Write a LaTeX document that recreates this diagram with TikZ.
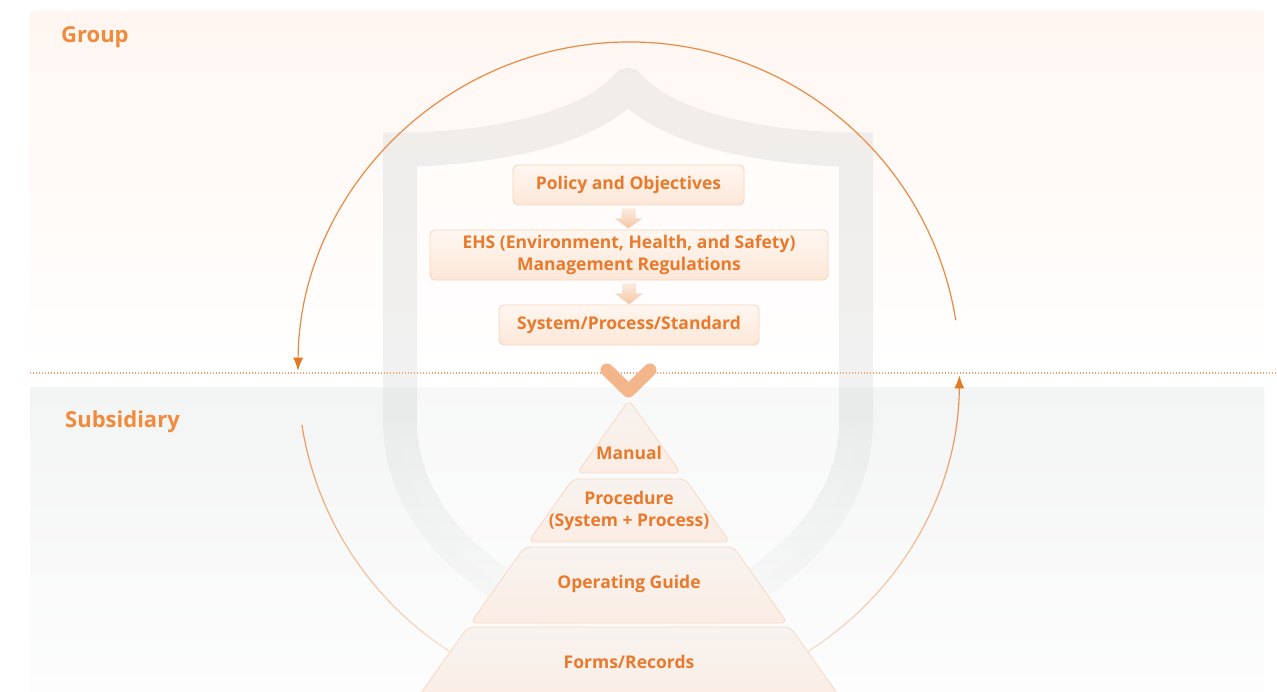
\documentclass[tikz,border=0pt]{standalone}
\usepackage{fontspec}
\setmainfont{Open Sans}
\newcommand\sbf{\bfseries}
\usetikzlibrary{arrows.meta,fadings,calc}
\definecolor{org}{HTML}{E97A2C}
\definecolor{lbl}{HTML}{F28A3B}
\definecolor{arcc}{HTML}{EA8A45}
\definecolor{tipc}{HTML}{E8781F}
\definecolor{boxtop}{HTML}{FFF7F1}
\definecolor{boxbot}{HTML}{FCE7D8}
\definecolor{boxline}{HTML}{F7D4BA}
\definecolor{shieldc}{HTML}{DCDEDD}
\definecolor{chev}{HTML}{F2B68A}
\definecolor{grptop}{HTML}{FFF6F1}
\definecolor{subtop}{HTML}{F3F4F4}
\definecolor{subbot}{HTML}{FDFDFD}
\definecolor{dotc}{HTML}{F2A570}
\definecolor{pyrtop}{HTML}{F8F3F0}
\definecolor{pyrbot}{HTML}{FBEDE4}
\definecolor{pyrline}{HTML}{F8DCC8}
\definecolor{arrtop}{HTML}{FCEBDF}
\definecolor{arrbot}{HTML}{F5C6A2}
\tikzfading[name=fadebottom, top color=transparent!0, bottom color=transparent!92]
\tikzfading[name=shieldfade, top color=transparent!0, bottom color=transparent!95]
\tikzset{
  box/.style={rounded corners=5pt, draw=boxline, line width=0.9pt, top color=boxtop, bottom color=boxbot,
    text=org, font=\sbf\fontsize{17.5}{22}\selectfont, align=center, inner sep=0pt},
  lvltext/.style={text=org, font=\sbf\fontsize{17.5}{22}\selectfont, align=center, inner sep=0pt},
  pyr/.style={rounded corners=6pt, draw=pyrline, line width=0.9pt, top color=pyrtop, bottom color=pyrbot},
  sectlabel/.style={text=lbl, font=\sbf\fontsize{22}{24}\selectfont, anchor=base west, inner sep=0pt},
  loop/.style={draw=arcc, line width=1.2pt, -{Latex[length=13pt,width=10pt,color=tipc]}},
  blockarrow/.style={top color=arrtop, bottom color=arrbot, draw=none},
}
\begin{document}
\begin{tikzpicture}[x=1pt,y=-1pt]
\useasboundingbox (0,0) rectangle (1277,692);
\fill[white] (0,0) rectangle (1277,692);
% panels
\shade[top color=grptop, bottom color=white] (30,12) rectangle (1264,372);
\shade[top color=subtop, bottom color=subbot] (30,388) rectangle (1264,692);
% shield
\begin{scope}[transparency group, opacity=0.42]
  \fill[white] (400,150) .. controls (500,148) and (590,128) .. (628,85)
     .. controls (666,128) and (756,148) .. (856,150) -- (856,420)
     .. controls (856,540) and (736,610) .. (628,640)
     .. controls (520,610) and (400,540) .. (400,420) -- cycle;
  \draw[shieldc, line width=34pt, line join=round]
     (400,150) .. controls (500,148) and (590,128) .. (628,85)
     .. controls (666,128) and (756,148) .. (856,150);
  \draw[shieldc, line width=34pt, line join=miter]
     (400,132.5) -- (400,150) -- (400,421);
  \draw[shieldc, line width=34pt, line join=miter]
     (856,132.5) -- (856,150) -- (856,421);
  \draw[shieldc, line width=34pt, path fading=shieldfade]
     (400,420) .. controls (400,540) and (520,610) .. (628,640)
     .. controls (736,610) and (856,540) .. (856,420);
\end{scope}
% divider
\coordinate (dl) at (30,373);
\coordinate (dr) at (1277,373);
\draw[dotc, line width=1.1pt, dash pattern=on 1.1pt off 1.9pt] (dl) -- (dr);
% labels
\node[sectlabel] (group) at (61,43) {Group};
\node[sectlabel] (subs) at (65,428) {Subsidiary};
% circle loop
\coordinate (cc) at (629,373);
\coordinate (topstart) at ($(cc)+(-9.2:331)$);
\coordinate (botstart) at ($(cc)+(171:331)$);
\draw[loop] (topstart) arc[start angle=-9.2, end angle=-179.6, radius=331];
\draw[loop, path fading=fadebottom] (botstart) arc[start angle=171, end angle=0.4, radius=331];
% boxes
\node[box, minimum width=231pt, minimum height=40pt] (pol) at (628.5,185) {Policy and Objectives};
\node[box, minimum width=398pt, minimum height=50pt] (ehs) at (629,255) {EHS (Environment, Health, and Safety)\\Management Regulations};
\node[box, minimum width=260pt, minimum height=40pt] (sps) at (629,325) {System/Process/Standard};
% block arrows
\path[blockarrow] ($(pol.south)+(-7,3)$) -- ++(14,0) -- ++(0,10) -- ++(7,0) -- ($(pol.south)+(0,23)$) -- ++(-14,-10) -- ++(7,0) -- cycle;
\path[blockarrow] ($(ehs.south)+(-7,3)$) -- ++(14,0) -- ++(0,10) -- ++(7,0) -- ($(ehs.south)+(0,24)$) -- ++(-14,-11) -- ++(7,0) -- cycle;
% pyramid
\coordinate (apex) at (629,400);
\path[pyr] (629,400) -- (629+0.71*73,473) -- (629-0.71*73,473) -- cycle;
\path[pyr] (629-0.71*79,479) -- (629+0.71*79,479) -- (629+0.71*142,542) -- (629-0.71*142,542) -- cycle;
\path[pyr] (629-0.71*147,547) -- (629+0.71*147,547) -- (629+0.71*223,623) -- (629-0.71*223,623) -- cycle;
\path[pyr] (629-0.71*227,627) -- (629+0.71*227,627) -- (629+0.71*310,710) -- (629-0.71*310,710) -- cycle;
\node[lvltext] (man) at (629,453) {Manual};
\node[lvltext] (proc) at (629,511) {Procedure\\(System + Process)};
\node[lvltext] (opg) at (629,584) {Operating Guide};
\node[lvltext] (frm) at (629,662) {Forms/Records};
% chevron
\draw[chev, line width=13pt, line cap=round, line join=round] (607,370) -- (628.5,391) -- (650,370);
\end{tikzpicture}
\end{document}
